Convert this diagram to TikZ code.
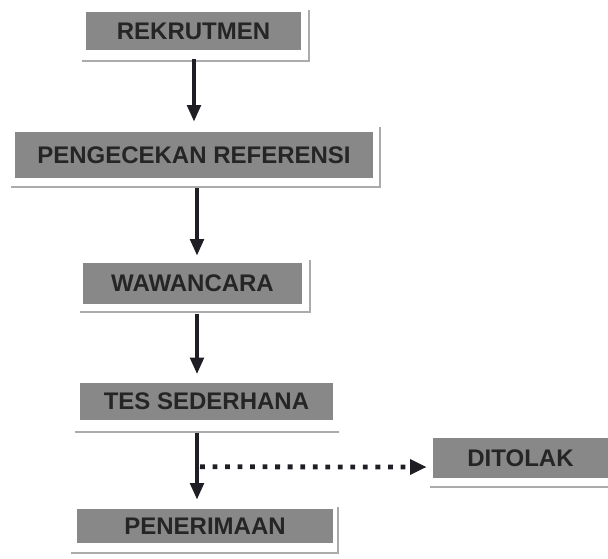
\documentclass[tikz,border=0pt]{standalone}
\usepackage{fontspec}
\setmainfont{Liberation Sans}
\usetikzlibrary{arrows.meta,calc}
\definecolor{boxgray}{HTML}{888888}
\definecolor{textdark}{HTML}{252525}
\definecolor{edgegray}{HTML}{ABABAB}
\definecolor{arrowdark}{HTML}{1E1E24}
\begin{document}
\begin{tikzpicture}[x=0.75pt,y=-0.75pt,
  stage/.style={fill=boxgray, draw=none, inner sep=0pt, text=textdark,
    font=\fontsize{18}{21}\selectfont\bfseries},
  edge/.style={draw=edgegray, line width=1.5pt},
  flow/.style={draw=arrowdark, line width=3pt,
    -{Triangle[width=10pt,length=12.5pt]}},
  reject/.style={draw=arrowdark, line width=3.6pt, dash pattern=on 3.6pt off 5.8pt,
    -{Triangle[width=11pt,length=12.5pt]}}]
\useasboundingbox (0,0) rectangle (608,558);

% process stages
\node[stage, minimum width=215*0.75pt, minimum height=38*0.75pt] (rek) at (193.5,31) {REKRUTMEN};
\node[stage, minimum width=358*0.75pt, minimum height=46*0.75pt] (ref) at (194,155) {PENGECEKAN REFERENSI};
\node[stage, minimum width=219*0.75pt, minimum height=41*0.75pt] (waw) at (192.5,283.5) {WAWANCARA};
\node[stage, minimum width=253*0.75pt, minimum height=37*0.75pt] (tes) at (206.5,401) {TES SEDERHANA};
\node[stage, minimum width=256*0.75pt, minimum height=34*0.75pt] (pen) at (205,526) {PENERIMAAN};
\node[stage, minimum width=175*0.75pt, minimum height=40*0.75pt] (dit) at (520.5,458) {DITOLAK};

% thin frame lines below and to the right of the stages
\draw[edge] ($(rek.south west)+(-4,11)$) -- ($(rek.south east)+(8,11)$) -- ($(rek.north east)+(8,-2)$);
\draw[edge] ($(ref.south west)+(-4,9)$) -- ($(ref.south east)+(7,9)$) -- ($(ref.north east)+(7,-5)$);
\draw[edge] ($(waw.south west)+(-3,8)$) -- ($(waw.south east)+(8,8)$) -- ($(waw.north east)+(8,-3)$);
\draw[edge] ($(tes.south west)+(-5,12)$) -- ($(tes.south east)+(6,12)$);
\draw[edge] ($(pen.south west)+(-6,10)$) -- ($(pen.south east)+(5,10)$) -- ($(pen.north east)+(5,-2)$);
\draw[edge] ($(dit.south west)+(-3,9)$) -- ($(dit.south east)+(0,9)$);

% main flow
\draw[flow] ($(rek.south)+(0.5,9)$) -- ($(ref.north)+(0,-10)$);
\draw[flow] ($(ref.south)+(3,10)$) -- ($(waw.north)+(4.5,-7)$);
\draw[flow] ($(waw.south)+(4.5,10)$) -- ($(tes.north)+(-9.5,-8)$);
\draw[flow] ($(tes.south)+(-9.5,13)$) -- ($(pen.north)+(-8,-9)$);

% rejection branch
\coordinate (branch) at ($(tes.south)+(-6.5,47)$);
\draw[reject] (branch) -- ($(dit.west)+(-6,9)$);
\end{tikzpicture}
\end{document}
